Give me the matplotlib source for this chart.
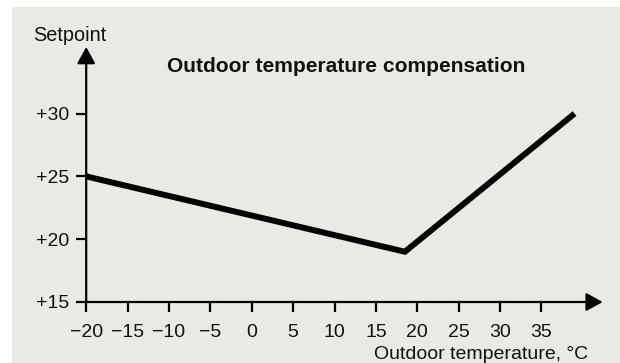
import matplotlib
matplotlib.use("Agg")
import matplotlib.pyplot as plt
from matplotlib.patches import Rectangle

plt.rcParams['font.family'] = ['Liberation Sans', 'DejaVu Sans']

# curve break points: outdoor temperature -> setpoint
outdoor_temp = [-20, 18.5, 39]
setpoint = [25, 19, 30]

x_ticks = [-20, -15, -10, -5, 0, 5, 10, 15, 20, 25, 30, 35]
y_ticks = [15, 20, 25, 30]
y_tick_labels = ["+15", "+20", "+25", "+30"]

x_min, x_max = -20, 42.4
y_min, y_max = 15, 35.3

bg = '#eaeae5'

fig = plt.figure(figsize=(6.2, 3.63), dpi=100, facecolor='white')
fig.patches.append(Rectangle((12 / 620, 0), 1, 1 - 7 / 363, transform=fig.transFigure,
                             facecolor=bg, edgecolor='none', zorder=-10))

ax = fig.add_axes([86.2 / 620, 61 / 363, 516.5 / 620, 255 / 363])
ax.set_facecolor('none')
ax.set_xlim(x_min, x_max)
ax.set_ylim(y_min, y_max)

for s in ax.spines.values():
    s.set_visible(False)

# axes with arrowheads
arrow = dict(arrowstyle='-|>,head_length=10,head_width=5.5', mutation_scale=1,
             color='black', lw=1.6, shrinkA=0, shrinkB=0)
ax.annotate('', xy=(x_max, y_min), xytext=(x_min, y_min), arrowprops=arrow,
            annotation_clip=False)
ax.annotate('', xy=(x_min, y_max), xytext=(x_min, y_min), arrowprops=arrow,
            annotation_clip=False)

ax.plot(outdoor_temp, setpoint, color='black', lw=4.3, solid_capstyle='butt',
        solid_joinstyle='miter', clip_on=False, zorder=3)

ax.set_xticks(x_ticks)
ax.set_yticks(y_ticks)
ax.set_yticklabels(y_tick_labels)
ax.tick_params(axis='both', length=7.5, width=1.6, color='black',
               labelsize=14, labelcolor='#111111')
ax.tick_params(axis='x', pad=8)
ax.tick_params(axis='y', pad=5)

fig.text(588 / 620, 1 - 359 / 363, "Outdoor temperature, °C", ha='right', va='baseline',
         fontsize=14, color='#111111')
fig.text(70 / 620, 1 - 41 / 363, "Setpoint", ha='center', va='baseline',
         fontsize=14.3, color='#111111')
fig.text(346 / 620, 1 - 72 / 363, "Outdoor temperature compensation", ha='center',
         va='baseline', fontsize=15.1, fontweight='bold', color='#111111')

fig.savefig("out.png", dpi=100, facecolor='white')
